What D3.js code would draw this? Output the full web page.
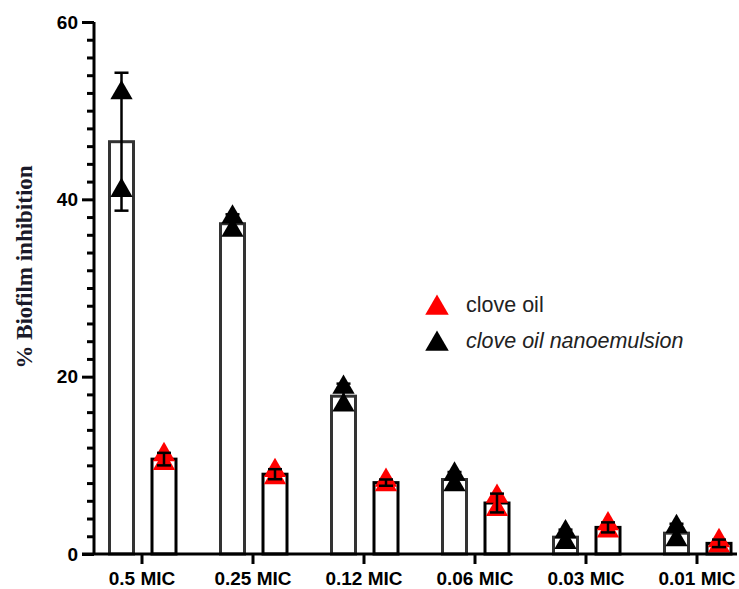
<!DOCTYPE html>
<html>
<head>
<meta charset="utf-8">
<script src="https://cdn.jsdelivr.net/npm/d3@7"></script>
<style>
  body { margin: 0; background: #fff; }
  svg { display: block; }
</style>
</head>
<body>
<script>
'use strict';

// categories on the x axis
const categories = ["0.5 MIC", "0.25 MIC", "0.12 MIC", "0.06 MIC", "0.03 MIC", "0.01 MIC"];

// replicate points (two per group)
const nanoPoints = [[52.0, 41.0], [38.0, 36.5], [18.8, 16.8], [9.0, 7.8], [2.5, 1.3], [3.1, 1.6]];
const clovePoints = [[11.2, 10.2], [9.4, 8.6], [8.3, 7.8], [6.5, 5.0], [3.4, 2.6], [1.5, 0.9]];

// y axis ticks
const yMajorTicks = [0, 20, 40, 60];
const yMinorTicks = d3.range(0, 61, 2).filter(v => v % 20 !== 0);

const seriesNames = ["clove oil", "clove oil nanoemulsion"];

const width = 739, height = 589;

let svg = d3.select('body')
  .append('svg')
  .attr('width', width)
  .attr('height', height);

// scales
let x = d3.scaleBand()
  .domain(categories)
  .range([86.5, 752.5]);

let y = d3.scaleLinear()
  .domain([0, 60])
  .range([554, 22]);

// series: nanoemulsion first (left bar), clove oil second (right bar)
let series = [
  { name: seriesNames[1], points: nanoPoints, offset: -20.5, barStroke: "#333", fill: "#000" },
  { name: seriesNames[0], points: clovePoints, offset: 22, barStroke: "#000", fill: "#ff0000" }
];

const barW = 24;
let tri = d3.symbol().type(d3.symbolTriangle).size(215);

series.forEach(s => {
  let rows = categories.map((c, i) => ({
    cat: c,
    pts: s.points[i],
    mean: d3.mean(s.points[i]),
    sd: d3.deviation(s.points[i])
  }));
  let cx = d => x(d.cat) + x.bandwidth() / 2 + s.offset;

  let g = svg.append('g');

  // bars
  g.selectAll('rect')
    .data(rows)
    .enter()
    .append('rect')
      .attr('x', d => cx(d) - barW / 2)
      .attr('y', d => y(d.mean))
      .attr('width', barW)
      .attr('height', d => y(0) - y(d.mean))
      .attr('fill', 'none')
      .attr('stroke', s.barStroke)
      .attr('stroke-width', 3);

  // points
  rows.forEach(d => {
    g.selectAll(null)
      .data(d.pts)
      .enter()
      .append('path')
        .attr('d', tri)
        .attr('transform', v => 'translate(' + cx(d) + ',' + y(v) + ')')
        .attr('fill', s.fill);
  });

  // error bars (mean +/- SD)
  rows.forEach(d => {
    let top = y(d.mean + d.sd), bot = y(d.mean - d.sd), xc = cx(d);
    g.append('line')
      .attr('x1', xc).attr('x2', xc)
      .attr('y1', top).attr('y2', bot)
      .attr('stroke', '#000').attr('stroke-width', 2.5);
    [top, bot].forEach(yy => {
      g.append('line')
        .attr('x1', xc - 7).attr('x2', xc + 7)
        .attr('y1', yy).attr('y2', yy)
        .attr('stroke', '#000').attr('stroke-width', 2.5);
    });
  });
});

// y axis with major and minor ticks
let yAxis = svg.append('g')
  .attr('transform', 'translate(94, 0)')
  .call(d3.axisLeft(y).tickValues(yMajorTicks).tickSize(12).tickPadding(4).tickSizeOuter(0));

svg.append('g')
  .attr('transform', 'translate(94, 0)')
  .call(d3.axisLeft(y).tickValues(yMinorTicks).tickSize(7).tickFormat(''))
  .select('.domain').remove();

yAxis.select('.domain')
  .attr('d', 'M0,' + y(60) + 'V' + y(0));

// x axis
let xAxis = svg.append('g')
  .attr('transform', 'translate(0, ' + y(0) + ')')
  .call(d3.axisBottom(x).tickSize(10).tickPadding(8).tickSizeOuter(0));

xAxis.select('.domain').remove();
xAxis.append('line')
  .attr('x1', 82).attr('x2', 737)
  .attr('y1', 0).attr('y2', 0)
  .attr('stroke', '#000')
  .attr('stroke-width', 3);

svg.selectAll('.domain, .tick line')
  .attr('stroke', '#000')
  .attr('stroke-width', 3);

yAxis.selectAll('.tick text')
  .style('font-family', 'Liberation Sans, Arial, sans-serif')
  .style('font-weight', 'bold')
  .style('font-size', '19px')
  .attr('fill', '#000');

xAxis.selectAll('.tick text')
  .style('font-family', 'Liberation Sans, Arial, sans-serif')
  .style('font-weight', 'bold')
  .style('font-size', '19px')
  .attr('fill', '#000');

// y axis title
svg.append('text')
  .attr('transform', 'translate(32, 267)rotate(-90)')
  .attr('text-anchor', 'middle')
  .style('font-family', 'Liberation Serif, Times New Roman, serif')
  .style('font-weight', 'bold')
  .style('font-size', '23px')
  .attr('fill', '#1a1a2a')
  .text('% Biofilm inhibition');

// legend
let legend = [
  { label: seriesNames[0], fill: "#ff0000", italic: false, y: 308 },
  { label: seriesNames[1], fill: "#000", italic: true, y: 344 }
];
let legTri = d3.symbol().type(d3.symbolTriangle).size(240);
legend.forEach(l => {
  svg.append('path')
    .attr('d', legTri)
    .attr('transform', 'translate(437,' + l.y + ')')
    .attr('fill', l.fill);
  svg.append('text')
    .attr('x', 466)
    .attr('y', l.y + 4)
    .style('font-family', 'Liberation Sans, Arial, sans-serif')
    .style('font-size', '21.5px')
    .style('font-style', l.italic ? 'italic' : 'normal')
    .attr('fill', '#222')
    .text(l.label);
});
</script>
</body>
</html>
